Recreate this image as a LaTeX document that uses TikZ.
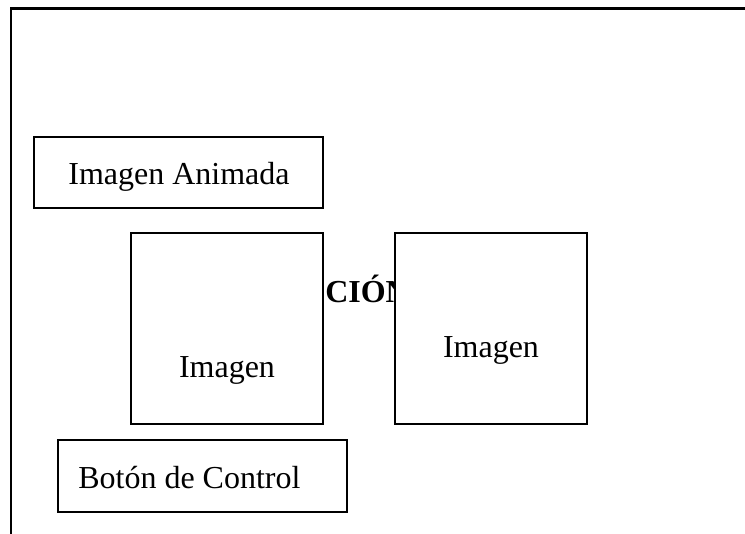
\documentclass[tikz,border=0pt]{standalone}
\usepackage{fontspec}
\setmainfont{Liberation Serif}
\usepackage{tikz}
\usetikzlibrary{positioning}

\begin{document}
\begin{tikzpicture}[
    x=0.75pt, y=-0.75pt,
    marco/.style={line width=2.25pt},
    marco lateral/.style={line width=1.5pt},
    caja/.style={draw, line width=1.5pt, fill=white, inner sep=0pt},
    texto/.style={inner sep=0pt, font=\fontsize{24}{28}\selectfont},
    titulo/.style={texto, font=\fontsize{24}{28}\selectfont\bfseries}
    ]
    \useasboundingbox (0,0) rectangle (745,534);

    % marco de la pagina
    \coordinate (esq) at (11,9);
    \coordinate (der) at (745,9);
    \coordinate (abajo) at (11,534);
    \draw[marco] (10,9) -- (der);
    \draw[marco lateral] (esq) -- (abajo);

    % imagen animada
    \node[caja, minimum width=289*0.75pt, minimum height=71*0.75pt] (animada) at (178.5,172.5) {};
    \node[texto, anchor=base] (tanimada) at (179,185) {Imagen Animada};

    % titulo tapado por las imagenes
    \node[titulo, anchor=base west] (titulo) at (325,302) {CIÓN};

    % imagenes
    \node[caja, minimum width=192*0.75pt, minimum height=191*0.75pt] (imgizq) at (227,328.5) {};
    \node[caja, minimum width=192*0.75pt, minimum height=191*0.75pt] (imgder) at (491,328.5) {};
    \node[texto, anchor=base] (timgizq) at (227,377) {Imagen};
    \node[texto, anchor=base] (timgder) at (491,357) {Imagen};

    % boton
    \node[caja, minimum width=289*0.75pt, minimum height=72*0.75pt] (boton) at (202.5,476) {};
    \node[texto, anchor=base west] (tboton) at (78,488) {Botón de Control};

\end{tikzpicture}
\end{document}
